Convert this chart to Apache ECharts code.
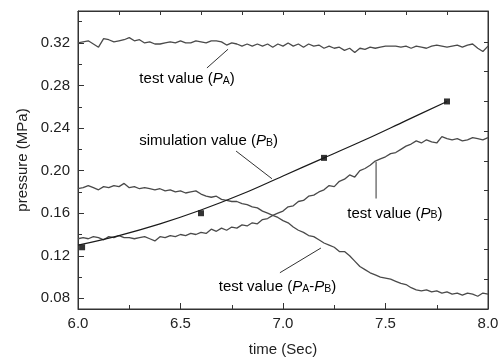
<!DOCTYPE html>
<html>
<head>
<meta charset="utf-8">
<script src="https://cdn.jsdelivr.net/npm/echarts@6/dist/echarts.min.js"></script>
<style>html,body{margin:0;padding:0;background:#fff}#c{width:504px;height:362px}</style>
</head>
<body>
<div id="c"></div>
<script>
var times = [6.000,6.025,6.050,6.075,6.100,6.125,6.150,6.175,6.200,6.225,6.250,6.275,6.300,6.325,6.350,6.375,6.400,6.425,6.450,6.475,
6.500,6.525,6.550,6.575,6.600,6.625,6.650,6.675,6.700,6.725,6.750,6.775,6.800,6.825,6.850,6.875,6.900,6.925,6.950,6.975,
7.000,7.025,7.050,7.075,7.100,7.125,7.150,7.175,7.200,7.225,7.250,7.275,7.300,7.325,7.350,7.375,7.400,7.425,7.450,7.475,
7.500,7.525,7.550,7.575,7.600,7.625,7.650,7.675,7.700,7.725,7.750,7.775,7.800,7.825,7.850,7.875,7.900,7.925,7.950,7.975,8.000];

var testPA = [0.320,0.321,0.322,0.319,0.316,0.324,0.323,0.321,0.322,0.323,0.325,0.322,0.323,0.320,0.321,0.319,0.319,0.320,0.321,0.320,
0.322,0.320,0.320,0.322,0.321,0.320,0.322,0.322,0.321,0.318,0.320,0.319,0.317,0.319,0.317,0.319,0.317,0.319,0.316,0.319,
0.317,0.320,0.317,0.319,0.316,0.319,0.317,0.318,0.315,0.317,0.315,0.316,0.313,0.315,0.311,0.315,0.314,0.316,0.315,0.316,
0.317,0.317,0.317,0.316,0.317,0.315,0.317,0.316,0.315,0.317,0.318,0.317,0.316,0.317,0.318,0.316,0.318,0.319,0.315,0.312,0.317];

var testPB = [0.136,0.137,0.136,0.138,0.137,0.135,0.138,0.137,0.139,0.137,0.137,0.136,0.137,0.138,0.136,0.134,0.138,0.137,0.139,0.138,
0.140,0.139,0.141,0.140,0.142,0.141,0.145,0.143,0.146,0.144,0.147,0.146,0.149,0.148,0.151,0.150,0.154,0.155,0.158,0.160,
0.162,0.166,0.167,0.171,0.172,0.176,0.177,0.180,0.182,0.186,0.185,0.190,0.192,0.196,0.194,0.200,0.202,0.205,0.209,0.211,
0.213,0.216,0.217,0.220,0.223,0.225,0.228,0.226,0.229,0.227,0.226,0.232,0.230,0.229,0.230,0.228,0.229,0.231,0.230,0.229,0.231];

var testPAminusPB = [0.183,0.184,0.186,0.184,0.182,0.185,0.184,0.186,0.185,0.188,0.184,0.185,0.183,0.184,0.183,0.182,0.183,0.181,0.182,0.180,
0.181,0.179,0.180,0.181,0.178,0.176,0.175,0.176,0.173,0.172,0.171,0.171,0.169,0.168,0.166,0.165,0.162,0.160,0.158,0.156,
0.153,0.151,0.147,0.144,0.142,0.139,0.138,0.135,0.132,0.130,0.128,0.124,0.124,0.120,0.115,0.110,0.107,0.104,0.102,0.100,
0.099,0.098,0.096,0.094,0.093,0.090,0.088,0.087,0.088,0.086,0.087,0.085,0.086,0.084,0.085,0.083,0.085,0.084,0.082,0.085,0.084];

var simTimes = [6.0,6.2,6.4,6.6,6.8,7.0,7.2,7.4,7.6,7.8];
var simValues = [0.130,0.139,0.150,0.163,0.178,0.195,0.212,0.229,0.247,0.265];
var simMarkTimes = [6.02,6.6,7.2,7.8];
var simMarkValues = [0.128,0.160,0.212,0.265];

var xTickLabels = [6.0,6.5,7.0,7.5,8.0];
var yTickLabels = [0.08,0.12,0.16,0.20,0.24,0.28,0.32];
var yMinorTicks = [0.10,0.14,0.18,0.22,0.26,0.30,0.34];
var topTicks = [6.2,6.4,6.6,6.8,7.0,7.2,7.4,7.6,7.8];
var rightTicks = [0.098,0.126,0.154,0.182,0.209,0.237,0.265,0.293,0.321];

function pairs(xs, ys){ return xs.map(function(x,i){ return [x, ys[i]]; }); }

var FONT = 'Liberation Sans';
var TXT = '#222';
var AX = '#333';

var chart = echarts.init(document.getElementById('c'), null, {renderer:'canvas'});

var option = {
  animation:false,
  backgroundColor:'#fff',
  grid:{left:78,right:16,top:11,bottom:50,show:true,borderColor:AX,borderWidth:1,backgroundColor:'transparent'},
  xAxis:[
    {type:'value',min:6,max:8,interval:0.5,position:'bottom',
     axisLine:{show:true,lineStyle:{color:AX,width:1}},
     axisTick:{show:true,inside:true,length:6,lineStyle:{color:AX}},
     minorTick:{show:true,splitNumber:2,length:4,lineStyle:{color:AX}},
     splitLine:{show:false},minorSplitLine:{show:false},
     axisLabel:{formatter:function(v){return v.toFixed(1);},fontSize:15,color:TXT,margin:7,fontFamily:FONT,
       customValues:xTickLabels},
     name:'time (Sec)',nameLocation:'middle',nameGap:33,
     nameTextStyle:{fontSize:15,color:TXT,fontFamily:FONT}},
    {type:'value',min:6,max:8,position:'top',
     axisLine:{show:true,lineStyle:{color:AX,width:1}},
     axisTick:{show:true,inside:true,length:4,lineStyle:{color:AX},customValues:topTicks},
     axisLabel:{show:false,customValues:topTicks},
     splitLine:{show:false}}
  ],
  yAxis:[
    {type:'value',min:0.07,max:0.35,position:'left',
     axisLine:{show:true,lineStyle:{color:AX,width:1}},
     axisTick:{show:true,inside:true,length:6,lineStyle:{color:AX},customValues:yTickLabels},
     axisLabel:{formatter:function(v){return v.toFixed(2);},fontSize:15,color:TXT,margin:8,fontFamily:FONT,
       customValues:yTickLabels},
     splitLine:{show:false},
     name:'pressure (MPa)',nameLocation:'middle',nameGap:47,nameRotate:90,
     nameTextStyle:{fontSize:15,color:TXT,fontFamily:FONT}},
    {type:'value',min:0.07,max:0.35,position:'left',
     axisLine:{show:false},
     axisTick:{show:true,inside:true,length:4,lineStyle:{color:AX},customValues:yMinorTicks},
     axisLabel:{show:false,customValues:yMinorTicks},
     splitLine:{show:false}},
    {type:'value',min:0.07,max:0.35,position:'right',
     axisLine:{show:true,lineStyle:{color:AX,width:1}},
     axisTick:{show:true,inside:true,length:4,lineStyle:{color:AX},customValues:rightTicks},
     axisLabel:{show:false,customValues:rightTicks},
     splitLine:{show:false}}
  ],
  series:[
    {type:'line',name:'PA',data:pairs(times,testPA),showSymbol:false,symbol:'none',
     lineStyle:{color:'#4a4a4a',width:1.3}},
    {type:'line',name:'PB',data:pairs(times,testPB),showSymbol:false,symbol:'none',
     lineStyle:{color:'#4a4a4a',width:1.3}},
    {type:'line',name:'PA-PB',data:pairs(times,testPAminusPB),showSymbol:false,symbol:'none',
     lineStyle:{color:'#4a4a4a',width:1.3}},
    {type:'line',name:'sim',data:pairs(simTimes,simValues),showSymbol:false,symbol:'none',smooth:0.4,
     lineStyle:{color:'#1a1a1a',width:1.2}},
    {type:'scatter',name:'simMarks',data:pairs(simMarkTimes,simMarkValues),symbol:'rect',symbolSize:6,
     itemStyle:{color:'#000'}}
  ]
};
chart.setOption(option);

var rich = {
  n:{fontSize:15,fontFamily:FONT,color:TXT,lineHeight:19,verticalAlign:'bottom'},
  i:{fontSize:15,fontFamily:FONT,fontStyle:'italic',color:TXT,lineHeight:19,verticalAlign:'bottom'},
  s:{fontSize:10.5,fontFamily:FONT,color:TXT,lineHeight:19,verticalAlign:'bottom'}
};
var labels = [
  {x:6.532,y:0.2881,text:'{n|test value (}{i|P}{s|A}{n|)}'},
  {x:6.637,y:0.2296,text:'{n|simulation value (}{i|P}{s|B}{n|)}'},
  {x:7.546,y:0.1617,text:'{n|test value (}{i|P}{s|B}{n|)}'},
  {x:6.973,y:0.0929,text:'{n|test value (}{i|P}{s|A}{n|-}{i|P}{s|B}{n|)}'}
];
var leaders = [
  [[6.629,0.2965],[6.732,0.3141]],
  [[6.771,0.2184],[6.946,0.1924]],
  [[7.454,0.2082],[7.454,0.1738]],
  [[6.985,0.1041],[7.185,0.1273]]
];
function px(p){ return chart.convertToPixel({xAxisIndex:0,yAxisIndex:0}, p); }
var g = [];
labels.forEach(function(l){
  var p = px([l.x,l.y]);
  g.push({type:'text',x:p[0],y:p[1],style:{text:l.text,rich:rich,align:'center',verticalAlign:'middle'},z:10});
});
leaders.forEach(function(s){
  var a = px(s[0]), b = px(s[1]);
  g.push({type:'line',shape:{x1:a[0],y1:a[1],x2:b[0],y2:b[1]},style:{stroke:'#333',lineWidth:1},z:10});
});
chart.setOption({graphic:g});
</script>
</body>
</html>
